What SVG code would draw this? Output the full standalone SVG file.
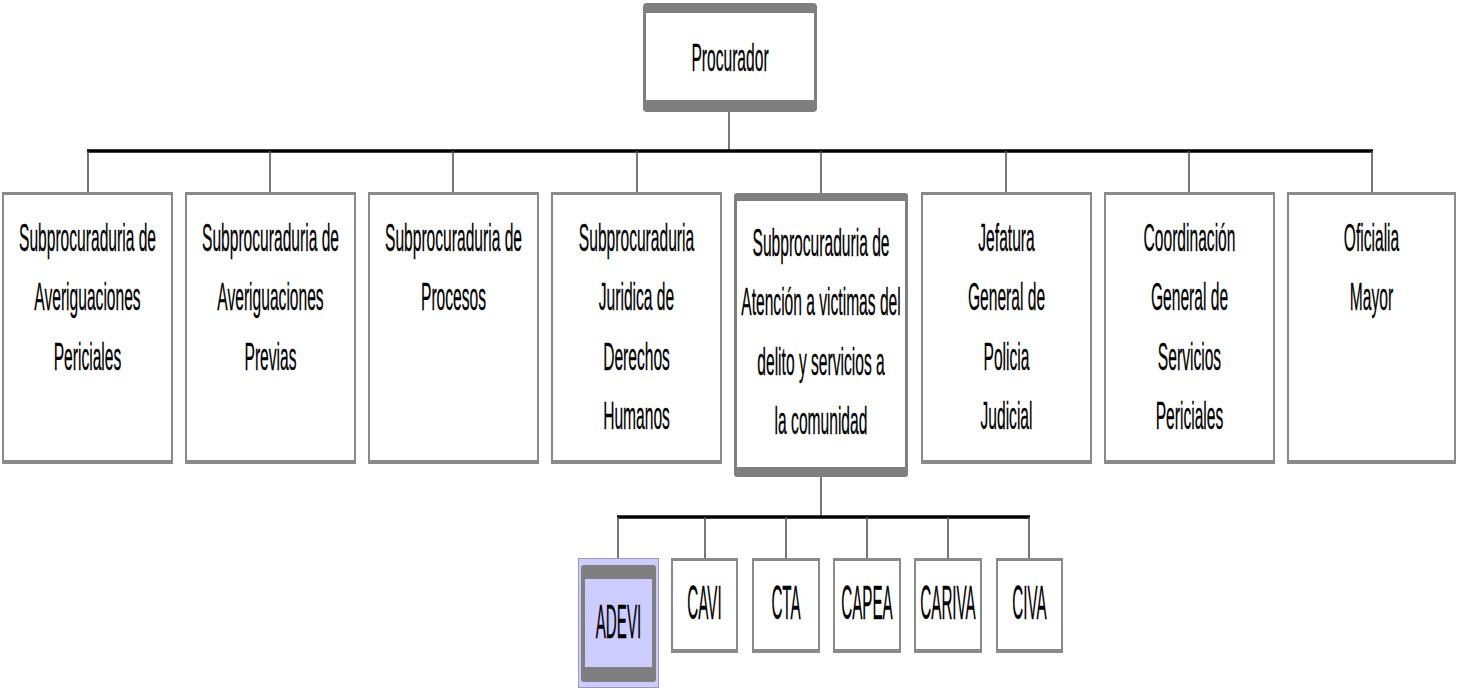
<svg xmlns="http://www.w3.org/2000/svg" width="1457" height="688" viewBox="0 0 1457 688">
<style>
.frame{fill:#8a8a8a}
.thick{fill:#7f7f7f}
.inner{fill:#ffffff}
.t{font-family:"Liberation Sans",Arial,sans-serif;font-size:39px;text-anchor:middle;fill:#000;stroke:#000;stroke-width:0.3}
.s{font-family:"Liberation Sans",Arial,sans-serif;font-size:49px;text-anchor:middle;fill:#000;stroke:#000;stroke-width:0.3}
.bus{stroke:#000;stroke-width:3.5;fill:none}
.drop{stroke:#555;stroke-width:1.6;fill:none}
</style>
<rect width="1457" height="688" fill="#fff"/>
<g id="connectors">
<line class="drop" x1="729" y1="112" x2="729" y2="151"/>
<line class="bus" x1="87" y1="151" x2="1373" y2="151"/>
<line class="drop" x1="88" y1="151" x2="88" y2="193"/>
<line class="drop" x1="270" y1="151" x2="270" y2="193"/>
<line class="drop" x1="453" y1="151" x2="453" y2="193"/>
<line class="drop" x1="637" y1="151" x2="637" y2="193"/>
<line class="drop" x1="821" y1="151" x2="821" y2="193"/>
<line class="drop" x1="1006" y1="151" x2="1006" y2="193"/>
<line class="drop" x1="1189" y1="151" x2="1189" y2="193"/>
<line class="drop" x1="1372" y1="151" x2="1372" y2="193"/>
<line class="drop" x1="821" y1="477" x2="821" y2="517"/>
<line class="bus" x1="617" y1="517" x2="1030" y2="517"/>
<line class="drop" x1="618" y1="517" x2="618" y2="558"/>
<line class="drop" x1="705" y1="517" x2="705" y2="558"/>
<line class="drop" x1="786" y1="517" x2="786" y2="558"/>
<line class="drop" x1="867" y1="517" x2="867" y2="558"/>
<line class="drop" x1="948" y1="517" x2="948" y2="558"/>
<line class="drop" x1="1029" y1="517" x2="1029" y2="558"/>
</g>
<g id="procurador">
<rect class="thick" x="643" y="3" width="174" height="109" rx="4"/>
<rect class="inner" x="646" y="13" width="168" height="87"/>
<text class="t" transform="translate(730,71) scale(0.4,1)">Procurador</text>
</g>
<g id="sub-av-periciales">
<rect class="frame" x="2" y="192" width="171" height="272"/>
<rect class="inner" x="4" y="195" width="167" height="265"/>
<text class="t" transform="translate(87.5,251) scale(0.4,1)">Subprocuraduria de</text>
<text class="t" transform="translate(87.5,310) scale(0.4,1)">Averiguaciones</text>
<text class="t" transform="translate(87.5,370) scale(0.4,1)">Periciales</text>
</g>
<g id="sub-av-previas">
<rect class="frame" x="185" y="192" width="171" height="272"/>
<rect class="inner" x="187" y="195" width="167" height="265"/>
<text class="t" transform="translate(270.5,251) scale(0.4,1)">Subprocuraduria de</text>
<text class="t" transform="translate(270.5,310) scale(0.4,1)">Averiguaciones</text>
<text class="t" transform="translate(270.5,370) scale(0.4,1)">Previas</text>
</g>
<g id="sub-procesos">
<rect class="frame" x="368" y="192" width="171" height="272"/>
<rect class="inner" x="370" y="195" width="167" height="265"/>
<text class="t" transform="translate(453.5,251) scale(0.4,1)">Subprocuraduria de</text>
<text class="t" transform="translate(453.5,310) scale(0.4,1)">Procesos</text>
</g>
<g id="sub-ddhh">
<rect class="frame" x="551" y="192" width="171" height="272"/>
<rect class="inner" x="553" y="195" width="167" height="265"/>
<text class="t" transform="translate(636.5,251) scale(0.4,1)">Subprocuraduria</text>
<text class="t" transform="translate(636.5,310) scale(0.4,1)">Juridica de</text>
<text class="t" transform="translate(636.5,370) scale(0.4,1)">Derechos</text>
<text class="t" transform="translate(636.5,429) scale(0.4,1)">Humanos</text>
</g>
<g id="sub-victimas">
<rect class="thick" x="734" y="193" width="174" height="284" rx="3"/>
<rect class="inner" x="737" y="201" width="168" height="266"/>
<text class="t" transform="translate(821,256) scale(0.4,1)">Subprocuraduria de</text>
<text class="t" transform="translate(821,315) scale(0.4,1)">Atención a victimas del</text>
<text class="t" transform="translate(821,375) scale(0.4,1)">delito y servicios a</text>
<text class="t" transform="translate(821,434) scale(0.4,1)">la comunidad</text>
</g>
<g id="jefatura">
<rect class="frame" x="921" y="192" width="171" height="272"/>
<rect class="inner" x="923" y="195" width="167" height="265"/>
<text class="t" transform="translate(1006.5,251) scale(0.4,1)">Jefatura</text>
<text class="t" transform="translate(1006.5,310) scale(0.4,1)">General de</text>
<text class="t" transform="translate(1006.5,370) scale(0.4,1)">Policia</text>
<text class="t" transform="translate(1006.5,429) scale(0.4,1)">Judicial</text>
</g>
<g id="coordinacion">
<rect class="frame" x="1104" y="192" width="171" height="272"/>
<rect class="inner" x="1106" y="195" width="167" height="265"/>
<text class="t" transform="translate(1189.5,251) scale(0.4,1)">Coordinación</text>
<text class="t" transform="translate(1189.5,310) scale(0.4,1)">General de</text>
<text class="t" transform="translate(1189.5,370) scale(0.4,1)">Servicios</text>
<text class="t" transform="translate(1189.5,429) scale(0.4,1)">Periciales</text>
</g>
<g id="oficialia">
<rect class="frame" x="1287" y="192" width="169" height="272"/>
<rect class="inner" x="1289" y="195" width="165" height="265"/>
<text class="t" transform="translate(1371.5,251) scale(0.4,1)">Oficialia</text>
<text class="t" transform="translate(1371.5,310) scale(0.4,1)">Mayor</text>
</g>
<g id="adevi">
<rect x="578.5" y="558.5" width="80" height="129" fill="#ccccff" stroke="#9a9ab4" stroke-width="1"/>
<rect class="thick" x="581" y="565" width="75" height="117" rx="3"/>
<rect x="585" y="579" width="67" height="88" fill="#ccccff"/>
<text class="s" transform="translate(618.5,638) scale(0.31,1)">ADEVI</text>
</g>
<g id="cavi">
<rect class="frame" x="671" y="558" width="67" height="95"/>
<rect class="inner" x="673" y="561" width="63" height="88"/>
<text class="s" transform="translate(704.5,619) scale(0.31,1)">CAVI</text>
</g>
<g id="cta">
<rect class="frame" x="752" y="558" width="68" height="95"/>
<rect class="inner" x="754" y="561" width="64" height="88"/>
<text class="s" transform="translate(786,619) scale(0.31,1)">CTA</text>
</g>
<g id="capea">
<rect class="frame" x="833" y="558" width="68" height="95"/>
<rect class="inner" x="835" y="561" width="64" height="88"/>
<text class="s" transform="translate(867,619) scale(0.31,1)">CAPEA</text>
</g>
<g id="cariva">
<rect class="frame" x="914" y="558" width="68" height="95"/>
<rect class="inner" x="916" y="561" width="64" height="88"/>
<text class="s" transform="translate(948,619) scale(0.31,1)">CARIVA</text>
</g>
<g id="civa">
<rect class="frame" x="996" y="558" width="67" height="95"/>
<rect class="inner" x="998" y="561" width="63" height="88"/>
<text class="s" transform="translate(1029.5,619) scale(0.31,1)">CIVA</text>
</g>
</svg>
